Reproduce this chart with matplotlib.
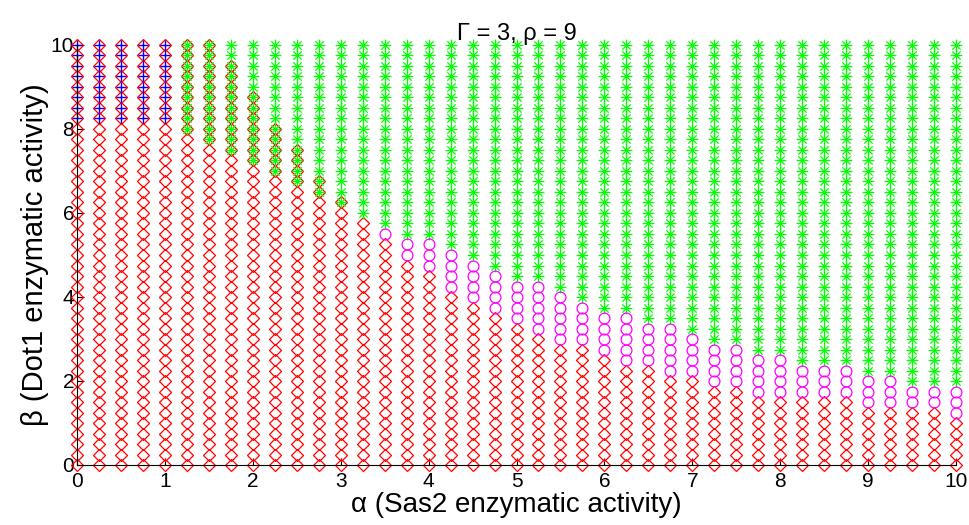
import numpy as np
import matplotlib
matplotlib.use('Agg')
import matplotlib.pyplot as plt
from matplotlib.path import Path

plt.rcParams['font.family'] = ['Liberation Sans', 'DejaVu Sans']

nan = np.nan
alpha = np.arange(0, 10.001, 0.25)
beta = np.arange(0, 10.001, 0.25)

# top of red diamond region per alpha column
diamond_top = [10, 10, 10, 10, 10, 10, 10, 9.5, 8.75, 8.0,
               7.5, 6.75, 6.25, 5.75, 5.25, 4.75, 4.5, 4.0, 3.75, 3.5,
               3.25, 3.0, 2.75, 2.75, 2.5, 2.25, 2.25, 2.0, 2.0, 1.75,
               1.75, 1.5, 1.5, 1.5, 1.5, 1.5, 1.25, 1.25, 1.25, 1.25, 1.0]
# bottom of green star region (up to 10)
star_bottom = [nan] * 5 + [8.0, 7.75, 7.5, 7.25, 7.0, 6.75, 6.5, 6.25, 6.0, 5.75,
                           5.5, 5.5, 5.25, 5.0, 4.75, 4.5, 4.5, 4.25, 4.0, 3.75,
                           3.75, 3.5, 3.5, 3.25, 3.0, 3.0, 2.75, 2.75, 2.5, 2.5,
                           2.5, 2.25, 2.25, 2.0, 2.0, 2.0]
# magenta circle band
circle_lo = [nan] * 14 + [5.5, 5.0, 4.75, 4.25, 4.0, 3.75, 3.5, 3.25, 3.0, 3.0,
                          2.75, 2.5, 2.5, 2.25, 2.25, 2.0, 2.0, 1.75, 1.75, 1.75,
                          1.75, 1.75, 1.5, 1.5, 1.5, 1.5, 1.25]
circle_hi = [nan] * 14 + [5.5, 5.25, 5.25, 5.0, 4.75, 4.5, 4.25, 4.25, 4.0, 3.75,
                          3.5, 3.5, 3.25, 3.25, 3.0, 2.75, 2.75, 2.5, 2.5, 2.25,
                          2.25, 2.25, 2.0, 2.0, 1.75, 1.75, 1.75]
# blue plus region (up to 10)
plus_bottom = [8.25] * 5 + [nan] * 36

eps = 1e-6
def collect(lo, hi):
    xs, ys = [], []
    for a, l, h in zip(alpha, lo, hi):
        if np.isnan(l):
            continue
        sel = beta[(beta >= l - eps) & (beta <= h + eps)]
        xs += [a] * len(sel)
        ys += list(sel)
    return xs, ys

zeros = [0.0] * len(alpha)
tens = [10.0] * len(alpha)

# asterisk marker (matlab style '*')
d = 0.7071
star_path = Path([(-1, 0), (1, 0), (0, -1), (0, 1), (-d, -d), (d, d), (-d, d), (d, -d)],
                 [Path.MOVETO, Path.LINETO] * 4)

fig = plt.figure(figsize=(9.69, 5.25), dpi=100)
ax = fig.add_axes([77 / 969, 60 / 525, 879 / 969, 420 / 525])

x, y = collect(zeros, diamond_top)
ax.plot(x, y, 'D', ms=6.2, mfc='none', mec='#ff0000', mew=0.9, clip_on=False, ls='none')
x, y = collect(plus_bottom, tens)
ax.plot(x, y, '+', ms=7, mec='#0000ff', mew=1.0, clip_on=False, ls='none')
x, y = collect(star_bottom, tens)
ax.plot(x, y, marker=star_path, ms=8.5, mfc='none', mec='#00ff00', mew=0.9, clip_on=False, ls='none')
x, y = collect(circle_lo, circle_hi)
ax.plot(x, y, 'o', ms=7.8, mfc='none', mec='#ff00ff', mew=0.9, clip_on=False, ls='none')

ax.set_xlim(0, 10)
ax.set_ylim(0, 10)
ax.set_xticks(range(0, 11))
ax.set_yticks(range(0, 11, 2))
ax.spines['top'].set_visible(False)
ax.spines['right'].set_visible(False)
ax.tick_params(direction='in', length=5, labelsize=15)
ax.tick_params(axis='x', pad=5)
ax.tick_params(axis='y', pad=2)
ax.set_xlabel('α (Sas2 enzymatic activity)', fontsize=20, labelpad=1)
ax.set_ylabel('β (Dot1 enzymatic activity)', fontsize=21, labelpad=1)
ax.set_title('Γ = 3, ρ = 9', fontsize=17, pad=3)

fig.savefig('out.png', dpi=100)
